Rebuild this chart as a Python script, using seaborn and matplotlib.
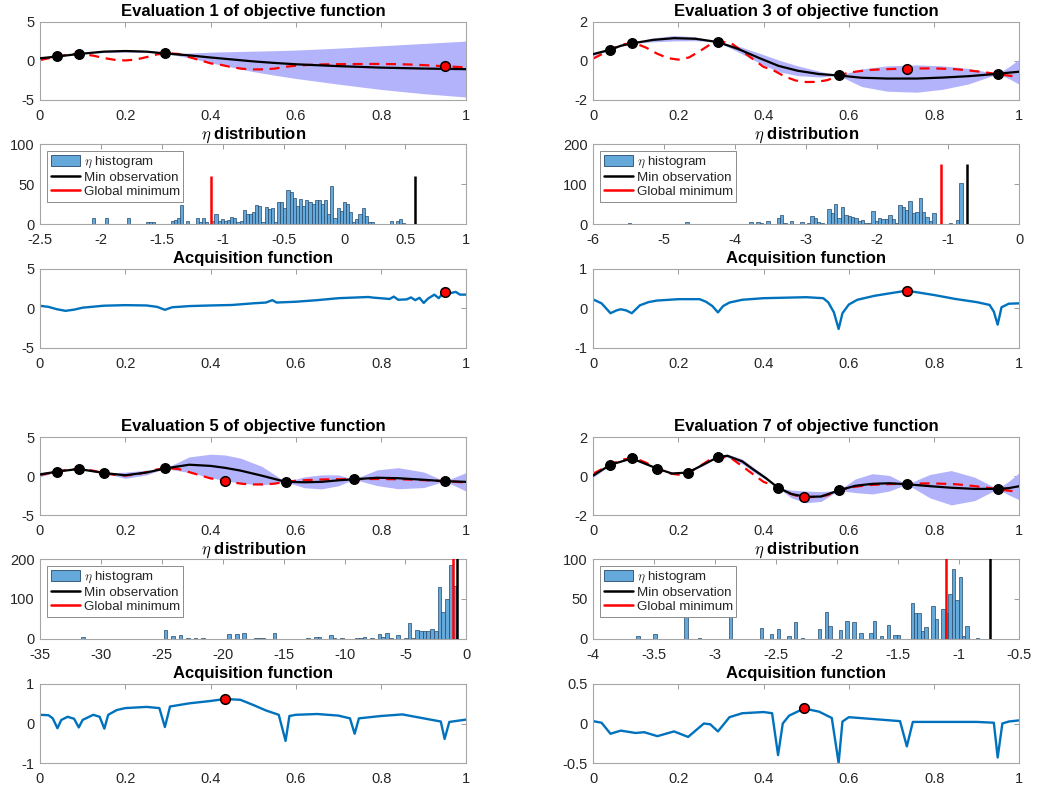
import numpy as np
import pandas as pd
import matplotlib
matplotlib.use("Agg")
import matplotlib.pyplot as plt
import seaborn as sns
from matplotlib.lines import Line2D
from matplotlib.patches import Patch
from matplotlib.ticker import FuncFormatter

# ------------------------------------------------------------------ data
eval_numbers = [1, 3, 5, 7]
n_observed = [3, 5, 7, 9]

# observations in the order they were evaluated
obs_x = [0.041, 0.091, 0.293, 0.949, 0.576, 0.736, 0.151, 0.434, 0.223, 0.495]
obs_y = [0.58, 0.90, 0.97, -0.66, -0.74, -0.42, 0.38, -0.60, 0.18, -1.07]

# true objective function (red dashed)
true_x = [0.0, 0.025, 0.05, 0.075, 0.1, 0.125, 0.15, 0.175, 0.2, 0.225, 0.25, 0.275,
          0.3, 0.325, 0.35, 0.375, 0.4, 0.425, 0.45, 0.475, 0.5, 0.525, 0.55, 0.575,
          0.6, 0.625, 0.65, 0.675, 0.7, 0.725, 0.75, 0.775, 0.8, 0.825, 0.85, 0.875,
          0.9, 0.925, 0.95, 0.975, 1.0]
true_y = [0.12, 0.40, 0.68, 0.87, 0.90, 0.68, 0.38, 0.15, 0.07, 0.18, 0.50, 0.85,
          1.00, 0.90, 0.50, 0.10, -0.30, -0.50, -0.80, -1.00, -1.08, -1.07, -0.98, -0.75,
          -0.60, -0.52, -0.46, -0.43, -0.41, -0.40, -0.39, -0.38, -0.38, -0.40, -0.42, -0.47,
          -0.53, -0.60, -0.68, -0.75, -0.82]

# GP posterior mean and confidence band, evaluation 1
gp1_x = [0, 0.041, 0.091, 0.15, 0.2, 0.25, 0.293, 0.35, 0.4, 0.45, 0.5, 0.55, 0.6, 0.7, 0.8, 0.9, 1.0]
gp1_mean = [0.35, 0.58, 0.90, 1.20, 1.28, 1.20, 0.97, 0.72, 0.45, 0.20, -0.05, -0.25, -0.42, -0.66, -0.85, -0.97, -1.05]
gp1_hi = [0.50, 0.58, 0.90, 1.32, 1.42, 1.32, 0.97, 1.02, 1.13, 1.20, 1.26, 1.32, 1.40, 1.65, 1.95, 2.25, 2.55]
gp1_lo = [0.20, 0.58, 0.90, 1.08, 1.14, 1.08, 0.97, 0.42, -0.23, -0.80, -1.36, -1.82, -2.24, -2.97, -3.65, -4.19, -4.62]

# evaluation 3
gp3_x = [0, 0.041, 0.065, 0.091, 0.14, 0.19, 0.24, 0.293, 0.34, 0.39, 0.435, 0.48, 0.53, 0.576,
         0.63, 0.69, 0.76, 0.82, 0.88, 0.949, 0.975, 1.0]
gp3_mean = [0.35, 0.58, 0.78, 0.90, 1.08, 1.17, 1.14, 0.97, 0.62, 0.15, -0.25, -0.50, -0.67, -0.74,
            -0.86, -0.90, -0.90, -0.85, -0.78, -0.66, -0.60, -0.55]
gp3_hi = [0.43, 0.58, 0.81, 0.90, 1.18, 1.31, 1.24, 0.97, 0.77, 0.40, 0.05, -0.25, -0.52, -0.74,
          -0.41, -0.25, -0.20, -0.25, -0.38, -0.66, -0.30, 0.10]
gp3_lo = [0.27, 0.58, 0.75, 0.90, 0.98, 1.03, 1.04, 0.97, 0.47, -0.10, -0.55, -0.75, -0.82, -0.74,
          -1.31, -1.55, -1.60, -1.45, -1.18, -0.66, -0.90, -1.20]

# evaluation 5
gp5_x = [0, 0.041, 0.091, 0.151, 0.2, 0.25, 0.293, 0.35, 0.4, 0.434, 0.47, 0.52, 0.576, 0.62,
         0.66, 0.7, 0.736, 0.79, 0.84, 0.9, 0.949, 0.975, 1.0]
gp5_mean = [0.20, 0.58, 0.90, 0.38, 0.10, 0.45, 0.97, 1.45, 1.30, 1.05, 0.70, 0.05, -0.74, -0.80,
            -0.75, -0.55, -0.42, -0.22, -0.28, -0.48, -0.66, -0.70, -0.75]
gp5_hi = [0.50, 0.58, 0.90, 0.38, 0.50, 0.75, 0.97, 2.45, 2.80, 2.70, 2.30, 1.25, -0.74, -0.10,
          0.15, 0.15, -0.42, 0.78, 1.07, 0.52, -0.66, -0.10, 0.45]
gp5_lo = [-0.10, 0.58, 0.90, 0.38, -0.30, 0.15, 0.97, 0.45, -0.20, -0.60, -0.90, -1.15, -0.74, -1.50,
          -1.65, -1.25, -0.42, -1.22, -1.63, -1.48, -0.66, -1.30, -1.95]

# evaluation 7
gp7_x = [0, 0.041, 0.091, 0.151, 0.185, 0.223, 0.26, 0.293, 0.315, 0.35, 0.375, 0.405, 0.434, 0.465,
         0.5, 0.535, 0.576, 0.615, 0.655, 0.695, 0.736, 0.79, 0.84, 0.895, 0.949, 0.975, 1.0]
gp7_mean = [0.02, 0.58, 0.90, 0.38, 0.13, 0.18, 0.60, 0.97, 1.04, 0.75, 0.35, -0.10, -0.60, -0.92,
            -1.07, -1.05, -0.74, -0.50, -0.40, -0.37, -0.42, -0.52, -0.60, -0.66, -0.66, -0.62, -0.52]
gp7_hi = [0.12, 0.58, 0.90, 0.38, 0.17, 0.18, 0.65, 0.97, 1.12, 0.87, 0.47, -0.02, -0.60, -0.72,
          -0.77, -0.80, -0.74, -0.15, 0.12, 0.03, -0.42, 0.08, 0.28, -0.06, -0.66, -0.27, 0.18]
gp7_lo = [-0.08, 0.58, 0.90, 0.38, 0.09, 0.18, 0.55, 0.97, 0.96, 0.63, 0.23, -0.18, -0.60, -1.12,
          -1.37, -1.30, -0.74, -0.85, -0.92, -0.77, -0.42, -1.12, -1.48, -1.26, -0.66, -0.97, -1.22]

# eta histograms: (min, max) of the samples and counts per bin (100 bins)
hist1_range = (-2.07, 0.50)
hist1_counts = {0: 8, 4: 8, 11: 8, 17: 2, 18: 3, 19: 2, 25: 4, 26: 5, 27: 7, 28: 24, 30: 4, 33: 8,
                34: 3, 35: 7, 36: 2, 38: 4, 39: 12, 40: 4, 41: 6, 42: 4, 43: 5, 44: 9, 45: 7, 46: 3,
                47: 4, 48: 17, 49: 13, 50: 13, 51: 15, 52: 24, 53: 22, 54: 3, 55: 21, 56: 19, 57: 20,
                58: 3, 59: 28, 60: 28, 61: 20, 62: 43, 63: 40, 64: 32, 65: 22, 66: 31, 67: 22, 68: 30,
                69: 27, 70: 25, 71: 30, 72: 30, 73: 25, 74: 30, 75: 12, 76: 48, 77: 8, 78: 20, 79: 16,
                80: 28, 81: 25, 82: 15, 83: 3, 84: 6, 85: 12, 86: 20, 87: 10, 88: 3, 89: 2, 95: 4,
                97: 4, 98: 6, 99: 1}
hist3_range = (-5.56, -0.80)
hist3_counts = {1: 2, 15: 1, 18: 6, 37: 6, 39: 6, 40: 3, 42: 7, 45: 16, 46: 23, 47: 2, 49: 7, 52: 6,
                54: 3, 55: 20, 56: 16, 57: 5, 58: 3, 60: 38, 61: 28, 62: 50, 63: 16, 64: 42, 65: 23,
                66: 20, 67: 18, 68: 15, 69: 8, 70: 10, 71: 3, 72: 3, 73: 33, 74: 7, 75: 16, 76: 13,
                77: 13, 78: 22, 79: 13, 80: 2, 81: 48, 82: 42, 83: 35, 84: 58, 85: 27, 86: 30, 87: 65,
                88: 30, 89: 18, 90: 8, 91: 27, 96: 3, 98: 10, 99: 103}
hist5_range = (-31.62, -0.82)
hist5_counts = {0: 4, 22: 22, 24: 7, 26: 9, 28: 3, 30: 3, 32: 3, 39: 12, 41: 12, 43: 14, 46: 2, 47: 2,
                48: 2, 51: 16, 60: 2, 62: 6, 63: 5, 66: 9, 67: 3, 69: 3, 73: 2, 74: 3, 75: 4, 77: 2,
                79: 12, 80: 4, 81: 14, 82: 3, 84: 10, 86: 3, 87: 41, 88: 3, 89: 22, 90: 20, 91: 20,
                92: 21, 93: 26, 94: 20, 95: 130, 96: 68, 97: 100, 98: 185, 99: 132}
hist7_range = (-3.645, -0.83)
hist7_counts = {0: 4, 5: 6, 14: 35, 18: 1, 27: 35, 36: 14, 39: 6, 41: 12, 44: 4, 46: 21, 48: 1, 53: 12,
                55: 34, 56: 16, 59: 11, 61: 22, 63: 21, 65: 7, 68: 8, 69: 23, 71: 4, 73: 17, 75: 5,
                76: 5, 80: 45, 81: 32, 82: 33, 83: 10, 84: 15, 86: 41, 87: 25, 89: 38, 90: 33, 91: 56,
                92: 88, 93: 49, 94: 78, 95: 4, 96: 16, 99: 1}
global_minimum = -1.10
vline_tops = [60, 150, 230, 110]

# acquisition functions
acq1_x = [0, 0.02, 0.04, 0.06, 0.08, 0.1, 0.15, 0.2, 0.25, 0.275, 0.293, 0.31, 0.35, 0.4, 0.45, 0.5,
          0.53, 0.545, 0.555, 0.6, 0.65, 0.7, 0.77, 0.78, 0.82, 0.83, 0.84, 0.86, 0.87, 0.88, 0.89,
          0.9, 0.91, 0.925, 0.935, 0.949, 0.96, 0.975, 0.985, 1.0]
acq1_y = [0.34, 0.20, -0.10, -0.30, -0.15, 0.10, 0.35, 0.42, 0.38, 0.20, -0.17, 0.15, 0.30, 0.38, 0.44,
          0.65, 0.75, 1.05, 0.75, 0.85, 1.05, 1.30, 1.45, 1.38, 1.20, 1.50, 1.10, 1.15, 1.40, 1.05,
          1.35, 0.70, 1.25, 1.75, 1.30, 2.14, 1.90, 2.10, 1.75, 1.75]
acq3_x = [0, 0.02, 0.041, 0.055, 0.065, 0.078, 0.091, 0.11, 0.13, 0.15, 0.2, 0.25, 0.265, 0.28, 0.293,
          0.305, 0.32, 0.35, 0.4, 0.5, 0.54, 0.552, 0.565, 0.576, 0.585, 0.6, 0.62, 0.66, 0.7, 0.736,
          0.8, 0.85, 0.9, 0.93, 0.94, 0.949, 0.958, 0.975, 1.0]
acq3_y = [0.23, 0.13, -0.12, -0.05, -0.02, -0.05, -0.12, 0.08, 0.16, 0.20, 0.235, 0.235, 0.17, 0.06, -0.10,
          0.06, 0.15, 0.22, 0.26, 0.285, 0.26, 0.15, -0.10, -0.52, -0.12, 0.10, 0.22, 0.32, 0.39, 0.45,
          0.34, 0.24, 0.16, 0.09, -0.08, -0.41, 0.03, 0.12, 0.13]
acq5_x = [0, 0.02, 0.03, 0.041, 0.05, 0.065, 0.08, 0.091, 0.1, 0.125, 0.14, 0.151, 0.16, 0.18, 0.2,
          0.25, 0.28, 0.293, 0.305, 0.35, 0.4, 0.434, 0.47, 0.5, 0.53, 0.56, 0.576, 0.585, 0.6, 0.65,
          0.7, 0.727, 0.738, 0.748, 0.8, 0.85, 0.9, 0.94, 0.949, 0.96, 1.0]
acq5_y = [0.22, 0.21, 0.13, -0.12, 0.09, 0.17, 0.12, -0.10, 0.09, 0.22, 0.17, -0.13, 0.22, 0.34, 0.39,
          0.42, 0.39, -0.09, 0.43, 0.51, 0.57, 0.62, 0.60, 0.47, 0.33, 0.22, -0.44, 0.19, 0.22, 0.24,
          0.20, 0.13, -0.26, 0.13, 0.19, 0.23, 0.13, 0.05, -0.39, 0.04, 0.10]
acq7_x = [0, 0.02, 0.041, 0.065, 0.1, 0.12, 0.151, 0.19, 0.223, 0.26, 0.275, 0.293, 0.32, 0.35, 0.4,
          0.42, 0.434, 0.445, 0.46, 0.495, 0.53, 0.56, 0.576, 0.585, 0.6, 0.72, 0.736, 0.75, 0.8,
          0.9, 0.94, 0.949, 0.96, 0.975, 1.0]
acq7_y = [0.03, 0.01, -0.13, -0.09, -0.12, -0.11, -0.16, -0.10, -0.17, 0.00, -0.01, -0.10, 0.08, 0.13,
          0.145, 0.13, -0.40, 0.00, 0.10, 0.19, 0.15, 0.07, -0.50, 0.025, 0.08, 0.03, -0.29, 0.02,
          0.02, 0.02, 0.01, -0.43, 0.00, 0.025, 0.04]
acq_next_value = [2.14, 0.45, 0.62, 0.19]

# axis settings
obj_ylims = [(-5, 5), (-2, 2), (-5, 5), (-2, 2)]
obj_yticks = [[-5, 0, 5], [-2, 0, 2], [-5, 0, 5], [-2, 0, 2]]
hist_xlims = [(-2.5, 1), (-6, 0), (-35, 0), (-4, -0.5)]
hist_xticks = [[-2.5, -2, -1.5, -1, -0.5, 0, 0.5, 1], [-6, -5, -4, -3, -2, -1, 0],
               [-35, -30, -25, -20, -15, -10, -5, 0], [-4, -3.5, -3, -2.5, -2, -1.5, -1, -0.5]]
hist_ylims = [(0, 100), (0, 200), (0, 200), (0, 100)]
hist_yticks = [[0, 50, 100], [0, 100, 200], [0, 100, 200], [0, 50, 100]]
acq_ylims = [(-5, 5), (-1, 1), (-1, 1), (-0.5, 0.5)]
acq_yticks = [[-5, 0, 5], [-1, 0, 1], [-1, 0, 1], [-0.5, 0, 0.5]]
unit_ticks = [0, 0.2, 0.4, 0.6, 0.8, 1]

gp_x = [gp1_x, gp3_x, gp5_x, gp7_x]
gp_mean = [gp1_mean, gp3_mean, gp5_mean, gp7_mean]
gp_hi = [gp1_hi, gp3_hi, gp5_hi, gp7_hi]
gp_lo = [gp1_lo, gp3_lo, gp5_lo, gp7_lo]
hist_ranges = [hist1_range, hist3_range, hist5_range, hist7_range]
hist_counts = [hist1_counts, hist3_counts, hist5_counts, hist7_counts]
acq_x = [acq1_x, acq3_x, acq5_x, acq7_x]
acq_y = [acq1_y, acq3_y, acq5_y, acq7_y]

# ------------------------------------------------------------------ style
sns.set_theme(style="white")
plt.rcParams["font.family"] = ["Liberation Sans", "DejaVu Sans"]
plt.rcParams["axes.unicode_minus"] = False
plt.rcParams["mathtext.fontset"] = "cm"

BAND = "#b3b3fb"
BAR = "#65a8da"
BAR_EDGE = "#27496a"
ACQ = "#0072BD"

fig = plt.figure(figsize=(10.38, 7.88), dpi=100)

col_left = [0.0385, 0.5713]
col_width = 0.4108
row_bottom = [[0.8731, 0.7157, 0.5584], [0.3464, 0.1891, 0.0317]]
row_height = [0.0990, 0.1015, 0.1003]

fmt = FuncFormatter(lambda v, p: f"{v:g}")


def style_axes(ax, xlim, xticks, ylim, yticks, title):
    ax.set_xlim(xlim)
    ax.set_ylim(ylim)
    ax.set_xticks(xticks)
    ax.set_yticks(yticks)
    ax.xaxis.set_major_formatter(fmt)
    ax.yaxis.set_major_formatter(fmt)
    ax.tick_params(direction="in", length=3.5, width=0.6, color="#8c8c8c", labelsize=10.5,
                   labelcolor="#262626", top=True, right=True)
    ax.tick_params(axis="x", pad=6.5)
    ax.tick_params(axis="y", pad=4)
    for s in ax.spines.values():
        s.set_visible(True)
        s.set_color("#a6a6a6")
        s.set_linewidth(0.8)
    ax.set_xlabel("")
    ax.set_ylabel("")
    ax.grid(False)
    ax.set_title(title, fontsize=12, fontweight="bold", pad=4, color="black")


for k in range(4):
    x0 = col_left[k % 2]
    rb = row_bottom[k // 2]
    n = n_observed[k]

    # ---------------- objective panel
    ax = fig.add_axes([x0, rb[0], col_width, row_height[0]])
    ax.fill_between(gp_x[k], gp_lo[k], gp_hi[k], color=BAND, linewidth=0, zorder=1)
    sns.lineplot(x=true_x, y=true_y, ax=ax, color="red", linewidth=1.6,
                 linestyle=(0, (4.5, 3.0)), zorder=2)
    sns.lineplot(x=gp_x[k], y=gp_mean[k], ax=ax, color="black", linewidth=1.6, zorder=3)
    sns.scatterplot(x=obs_x[:n], y=obs_y[:n], ax=ax, color="black", s=50, edgecolor="black",
                    linewidth=0.8, zorder=4)
    sns.scatterplot(x=[obs_x[n]], y=[obs_y[n]], ax=ax, color="red", s=48, edgecolor="black",
                    linewidth=1.1, zorder=5)
    style_axes(ax, (0, 1), unit_ticks, obj_ylims[k], obj_yticks[k],
               f"Evaluation {eval_numbers[k]} of objective function")

    # ---------------- eta histogram
    ax = fig.add_axes([x0, rb[1], col_width, row_height[1]])
    lo, hi = hist_ranges[k]
    w = (hi - lo) / 100
    idx = np.array(sorted(hist_counts[k].keys()))
    df = pd.DataFrame({"eta": lo + (idx + 0.5) * w,
                       "count": [hist_counts[k][i] for i in idx]})
    edges = [float(e) for e in np.linspace(lo, hi, 101)]
    sns.histplot(data=df, x="eta", weights="count", bins=edges, ax=ax,
                 color=BAR, edgecolor=BAR_EDGE, linewidth=0.5, alpha=1.0, legend=False, zorder=2)
    ax.vlines(min(obs_y[:n]), 0, vline_tops[k], color="black", linewidth=1.8, zorder=3)
    ax.vlines(global_minimum, 0, vline_tops[k], color="red", linewidth=1.8, zorder=3)
    style_axes(ax, hist_xlims[k], hist_xticks[k], hist_ylims[k], hist_yticks[k],
               r"$\eta$ distribution")
    handles = [Patch(facecolor=BAR, edgecolor=BAR_EDGE, linewidth=0.6),
               Line2D([], [], color="black", linewidth=1.8),
               Line2D([], [], color="red", linewidth=1.8)]
    leg = ax.legend(handles, [r"$\eta$ histogram", "Min observation", "Global minimum"],
                    loc="upper left", fontsize=9.6, frameon=True, fancybox=False,
                    framealpha=1, edgecolor="#8c8c8c", borderpad=0.25, labelspacing=0.08,
                    handlelength=2.2, handleheight=0.9, handletextpad=0.3, borderaxespad=0.55)
    leg.get_frame().set_linewidth(0.7)
    leg.set_zorder(10)

    # ---------------- acquisition function
    ax = fig.add_axes([x0, rb[2], col_width, row_height[2]])
    sns.lineplot(x=acq_x[k], y=acq_y[k], ax=ax, color=ACQ, linewidth=1.7, zorder=2)
    sns.scatterplot(x=[obs_x[n]], y=[acq_next_value[k]], ax=ax, color="red", s=48,
                    edgecolor="black", linewidth=1.1, zorder=5)
    style_axes(ax, (0, 1), unit_ticks, acq_ylims[k], acq_yticks[k], "Acquisition function")

fig.savefig("out.png", dpi=100, facecolor="white")
